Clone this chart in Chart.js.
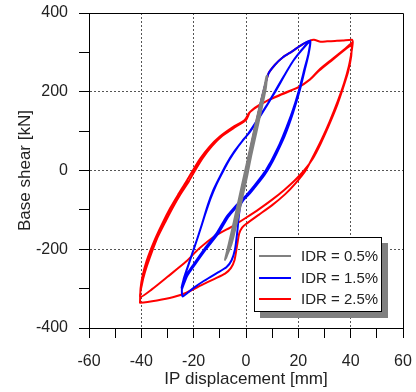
<!DOCTYPE html>
<html lang="en">
<head>
<meta charset="UTF-8">
<title>Hysteresis loops</title>
<script src="https://cdn.jsdelivr.net/npm/chart.js"></script>
<style>
  body { margin: 0; background: #fff; font-family: "Liberation Sans", Arial, sans-serif; }
  #wrap { position: relative; width: 416px; height: 392px; }
  #legend {
    position: absolute; left: 254px; top: 237px; width: 126px; height: 73px;
    border: 1px solid #000; background: #fff; box-shadow: 6px 6px 0 #808080;
    color: #222; font-size: 15px;
  }
  .row { position: absolute; left: 0; height: 20px; line-height: 20px; }
  .swatch { position: absolute; left: 4px; top: 9px; width: 32px; height: 2px; }
  .lbl { position: absolute; left: 46px; top: 0; white-space: nowrap; }
</style>
</head>
<body>
<div id="wrap">
  <canvas id="chart" width="416" height="392"></canvas>
  <div id="legend"></div>
</div>
<script>
// IDR = 0.5%
const grayX = [0, 3, 5.5, 8, 7.6, 6, 4, 2, 0.5, -1.5, -3.5, -5.5, -8, -6.7, -4.7, -2.7, -0.7, 1.3, 3.3, 5.3, 7, 7.8,
  7.3, 5.7, 3.7, 1.7, 0.2, -1.8, -3.8, -5.8, -7.6, -6.3, -4.3, -2.3, -0.3, 1.7, 3.7, 5.7, 7.5, 8];
const grayY = [0, 90, 165, 241, 210, 158, 98, 38, -12, -72, -132, -186, -227, -190, -132, -72, -12, 48, 108, 166, 212, 238,
  205, 155, 95, 35, -15, -75, -135, -188, -222, -185, -128, -68, -8, 52, 112, 170, 220, 240];

// IDR = 1.5%
const blueX = [0, 2, 4, 6, 8.5, 11, 14, 17.5, 21, 24.5,
  24, 23, 21, 18.5, 15.5, 12.5, 9.5, 7.5, 4.5, 1.5, -1, -2.2, -2.8, -3.4, -4.2, -5.5, -7.5, -11, -16, -20, -24.2,
  -24.5, -23.8, -21.8, -19.6, -17, -14.6, -12.5, -10.3, -7.5, -4.5, -1.5, 0.9, 2.5, 4.7, 8, 11, 14.5, 18, 21.5, 24.5,
  23.8, 22.5, 20.3, 17.5, 14.3, 11, 8.5, 6.5, 3.5, 0.5, -2.5, -5, -7.5, -11, -16, -20, -23, -24.6,
  -23.9, -22.5, -20.5, -18.2, -15.8, -13.6, -11.5, -9, -6.3, -3.3, -0.5, 1.5, 4.7, 11, 18, 24.5,
  23.9, 22.7, 20.6, 17.9, 14.8, 11.6, 9.1, 7.2, 4.2, 1.2, -1.8, -4.3, -6.8, -10.3, -15.3, -19.4, -22.5, -24.4];
const blueY = [0, 62, 122, 182, 245, 268, 287, 302, 318, 330,
  300, 270, 220, 165, 110, 62, 22, 0, -32, -58, -75, -90, -120, -160, -200, -228, -246, -260, -280, -298, -320,
  -302, -275, -235, -193, -140, -88, -50, -20, 16, 48, 74, 94, 110, 132, 166, 200, 240, 278, 308, 330,
  295, 262, 205, 145, 88, 42, 10, -10, -36, -60, -80, -98, -118, -157, -200, -238, -268, -298,
  -278, -250, -210, -165, -115, -72, -38, -5, 28, 58, 82, 98, 130, 198, 278, 328,
  295, 262, 205, 145, 88, 42, 10, -10, -36, -60, -80, -98, -118, -157, -200, -238, -268, -300];

// IDR = 2.5%
const redX = [0, 4, 8.5, 11, 14, 17.5, 21, 24.5, 26, 28.5, 31, 34, 37, 40.5,
  40.8, 40.3, 39.3, 37.5, 35, 32, 29, 26, 22.8, 19, 15, 10, 5, 0, -1.5, -2.6, -3.4, -4.4, -5.8, -8, -12, -17, -23, -28, -34, -40.5,
  -40.5, -40.3, -39.6, -38, -35, -32, -29, -26, -23, -20.5, -17.5, -14, -10, -5, -0.5, 1.2, 3.5, 8, 14, 20, 24.5, 28, 33, 38, 40.5,
  40.5, 40.2, 39, 37, 34.5, 31.5, 28.5, 25.5, 22.2, 18.5, 14.5, 10, 5, 0, -5, -12, -18, -23, -30, -36, -40.5,
  -39.8, -38.6, -36.8, -33.8, -30.8, -27.8, -24.8, -21.8, -19.3, -16.5, -13, -9, -4.2, 0, 1.5, 4, 8, 14, 20, 24.5, 28, 33, 38, 40.4];
const redY = [0, 125, 245, 268, 287, 302, 318, 330, 332, 327, 328, 329, 330, 332,
  326, 300, 265, 222, 175, 125, 80, 40, 0, -32, -60, -88, -112, -136, -145, -160, -190, -228, -248, -262, -275, -291, -311, -322, -330, -336,
  -334, -300, -270, -230, -178, -135, -96, -62, -30, -2, 30, 60, 86, 110, 128, 146, 160, 177, 195, 212, 232, 256, 283, 310, 324,
  322, 290, 250, 208, 160, 112, 68, 30, 0, -26, -50, -74, -98, -120, -141, -167, -199, -232, -270, -302, -322,
  -290, -258, -222, -170, -130, -92, -58, -27, 2, 32, 62, 88, 110, 128, 148, 161, 177, 194, 211, 231, 254, 281, 308, 320];

const seriesNames = ['IDR = 0.5%', 'IDR = 1.5%', 'IDR = 2.5%'];
const seriesColors = ['#808080', '#0000ff', '#ff0000'];

const xTitle = 'IP displacement [mm]';
const yTitle = 'Base shear [kN]';

function pts(xs, ys) {
  return xs.map((x, i) => ({ x: x, y: ys[i] }));
}

const textColor = '#222';
const fontFamily = '"Liberation Sans", Arial, sans-serif';

// top and right frame lines
const framePlugin = {
  id: 'frame',
  beforeDatasetsDraw(chart) {
    const a = chart.chartArea;
    const c = chart.ctx;
    c.save();
    c.strokeStyle = '#000';
    c.lineWidth = 1;
    c.beginPath();
    c.moveTo(a.left, a.top + 0.5);
    c.lineTo(a.right + 0.5, a.top + 0.5);
    c.lineTo(a.right + 0.5, a.bottom);
    c.stroke();
    c.restore();
  }
};

new Chart(document.getElementById('chart'), {
  type: 'scatter',
  data: {
    datasets: [
      { label: seriesNames[0], data: pts(grayX, grayY), borderColor: seriesColors[0] },
      { label: seriesNames[1], data: pts(blueX, blueY), borderColor: seriesColors[1] },
      { label: seriesNames[2], data: pts(redX, redY), borderColor: seriesColors[2] }
    ].map(d => Object.assign(d, { showLine: true, pointRadius: 0, borderWidth: 2, tension: 0.2, fill: false }))
  },
  options: {
    responsive: false,
    animation: false,
    devicePixelRatio: 1,
    layout: { padding: { top: 13, right: 13, left: 0, bottom: 0 } },
    plugins: { legend: { display: false }, tooltip: { enabled: false } },
    scales: {
      x: {
        type: 'linear', min: -60, max: 60,
        ticks: {
          stepSize: 10, autoSkip: false, maxRotation: 0, padding: 14,
          color: textColor, font: { size: 16, family: fontFamily },
          callback: v => (v % 20 === 0 ? String(v) : '')
        },
        grid: {
          color: ctx => {
            const v = ctx.tick ? ctx.tick.value : null;
            return (v !== null && Math.abs(v) < 60 && v % 20 === 0) ? '#555' : 'rgba(0,0,0,0)';
          },
          tickColor: '#000', tickLength: 10, lineWidth: 1
        },
        border: { color: '#000', width: 1, dash: [2, 2] },
        title: {
          display: true, text: xTitle, color: textColor,
          font: { size: 17, family: fontFamily, lineHeight: 1.2 },
          padding: { top: 0, bottom: 2 }
        },
        afterFit: s => { s.height = 64; s.paddingLeft = 0; s.paddingRight = 0; }
      },
      y: {
        type: 'linear', min: -400, max: 400,
        ticks: {
          stepSize: 100, autoSkip: false, padding: 11,
          color: textColor, font: { size: 16, family: fontFamily },
          callback: v => (v % 200 === 0 ? String(v) : '')
        },
        grid: {
          color: ctx => {
            const v = ctx.tick ? ctx.tick.value : null;
            return (v !== null && Math.abs(v) < 400 && v % 200 === 0) ? '#555' : 'rgba(0,0,0,0)';
          },
          tickColor: '#000', tickLength: 10, lineWidth: 1
        },
        border: { color: '#000', width: 1, dash: [2, 2] },
        title: {
          display: true, text: yTitle, color: textColor,
          font: { size: 17, family: fontFamily, lineHeight: 1.2 },
          padding: { top: 15, bottom: 0 }
        },
        afterFit: s => { s.width = 89; s.paddingTop = 0; s.paddingBottom = 0; }
      }
    }
  },
  plugins: [framePlugin]
});

// legend box with shadow
const legend = document.getElementById('legend');
seriesNames.forEach((name, i) => {
  const row = document.createElement('div');
  row.className = 'row';
  row.style.top = (8 + i * 21.5) + 'px';
  row.style.width = '126px';
  row.innerHTML = '<div class="swatch" style="background:' + seriesColors[i] + '"></div><span class="lbl">' + name + '</span>';
  legend.appendChild(row);
});
</script>
</body>
</html>
